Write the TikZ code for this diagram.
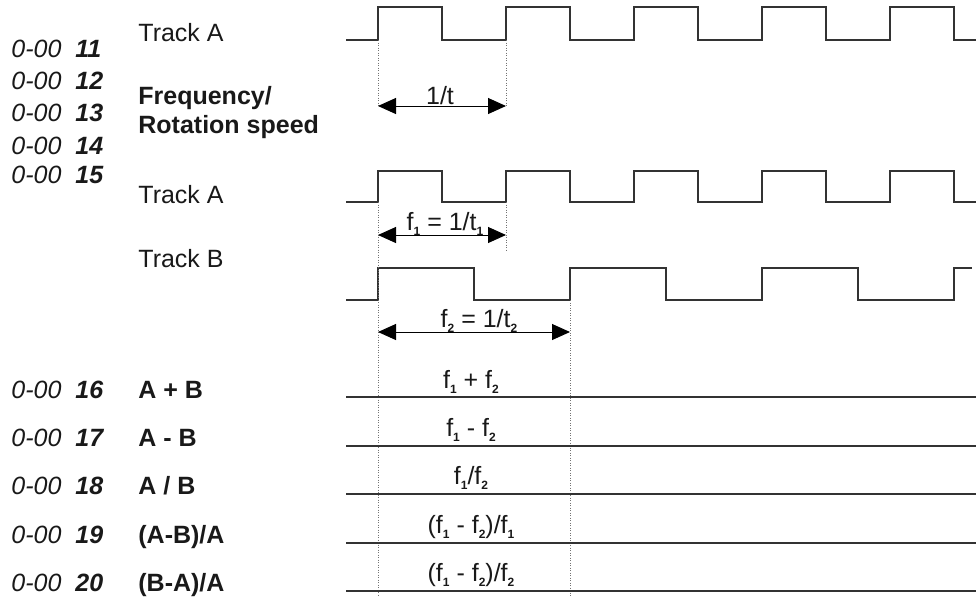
\documentclass[tikz,border=0pt]{standalone}
\usepackage{fontspec}
\setmainfont{Liberation Sans}
\usetikzlibrary{arrows.meta}

\newcommand{\fsub}[1]{\raisebox{-0.45ex}{\fontsize{6}{7}\selectfont\bfseries #1}}

\begin{document}
\begin{tikzpicture}[x=0.5pt, y=-0.5pt,
        every node/.style={inner sep=0pt, text=black!90, font=\fontsize{12.5}{14.5}\selectfont},
        code/.style={anchor=base west, font=\fontsize{12.5}{14.5}\selectfont\itshape},
        num/.style={anchor=base west, font=\fontsize{12.5}{14.5}\selectfont\bfseries\itshape},
        lbl/.style={anchor=base west},
        blbl/.style={anchor=base west, font=\fontsize{12.5}{14.5}\selectfont\bfseries},
        res/.style={anchor=base},
        wave/.style={draw=black!80, line width=0.65pt},
        guide/.style={draw=black!55, line width=0.45pt, dash pattern=on 0.45pt off 0.8pt},
        dim/.style={draw=black, line width=0.5pt,
            {Triangle[length=9pt,width=8pt]}-{Triangle[length=9pt,width=8pt]}}
        ]

        \useasboundingbox (0,0) rectangle (976,596);

        %% Item numbers
        \node[code] (c11) at (11,57)  {0-00}; \node[num] (n11) at (75,57)  {11};
        \node[code] (c12) at (11,89)  {0-00}; \node[num] (n12) at (75,89)  {12};
        \node[code] (c13) at (11,121) {0-00}; \node[num] (n13) at (75,121) {13};
        \node[code] (c14) at (11,154) {0-00}; \node[num] (n14) at (75,154) {14};
        \node[code] (c15) at (11,183) {0-00}; \node[num] (n15) at (75,183) {15};
        \node[code] (c16) at (11,398) {0-00}; \node[num] (n16) at (75,398) {16};
        \node[code] (c17) at (11,446) {0-00}; \node[num] (n17) at (75,446) {17};
        \node[code] (c18) at (11,494) {0-00}; \node[num] (n18) at (75,494) {18};
        \node[code] (c19) at (11,543) {0-00}; \node[num] (n19) at (75,543) {19};
        \node[code] (c20) at (11,591) {0-00}; \node[num] (n20) at (75,591) {20};

        %% Signal names
        \node[lbl] (trkA1) at (138,41) {Track A};
        \node[blbl, anchor=west, align=left] (freq) at (138,113) {Frequency/\\Rotation speed};
        \node[lbl] (trkA2) at (138,203) {Track A};
        \node[lbl] (trkB)  at (138,267) {Track B};
        \node[blbl] (sum)  at (138,398) {A + B};
        \node[blbl] (diff) at (138,446) {A - B};
        \node[blbl] (quot) at (138,494) {A / B};
        \node[blbl] (relA) at (138,543) {(A-B)/A};
        \node[blbl] (relB) at (138,591) {(B-A)/A};

        %% ---- Track A (single) ----
        \draw[wave] (346,40) -- (378,40) -- (378,7) -- (442,7) -- (442,40) -- (506,40) -- (506,7)
            -- (570,7) -- (570,40) -- (634,40) -- (634,7) -- (698,7) -- (698,40) -- (762,40)
            -- (762,7) -- (826,7) -- (826,40) -- (890,40) -- (890,7) -- (954,7) -- (954,40) -- (976,40);
        \draw[guide] (378,40) -- (378,106);
        \draw[guide] (506,40) -- (506,106);
        \coordinate (p0) at (378,106);
        \coordinate (p1) at (506,106);
        \draw[dim] (p0) -- (p1);
        \node[res] (per) at (440,104) {1/t};

        %% ---- Track A / Track B ----
        \draw[wave] (346,202) -- (378,202) -- (378,171) -- (442,171) -- (442,202) -- (506,202) -- (506,171)
            -- (570,171) -- (570,202) -- (634,202) -- (634,171) -- (698,171) -- (698,202) -- (762,202)
            -- (762,171) -- (826,171) -- (826,202) -- (890,202) -- (890,171) -- (954,171) -- (954,202) -- (976,202);
        \draw[wave] (346,300) -- (378,300) -- (378,268) -- (474,268) -- (474,300) -- (570,300) -- (570,268)
            -- (666,268) -- (666,300) -- (762,300) -- (762,268) -- (858,268) -- (858,300) -- (954,300)
            -- (954,268) -- (972,268);
        \draw[guide] (378,202) -- (378,596);
        \draw[guide] (506,202) -- (506,250);
        \draw[guide] (570,300) -- (570,596);
        \coordinate (a0) at (378,235);
        \coordinate (a1) at (506,235);
        \draw[dim] (a0) -- (a1);
        \node[res] (f1lbl) at (445,230) {f\fsub{1} = 1/t\fsub{1}};
        \coordinate (b0) at (378,332);
        \coordinate (b1) at (570,332);
        \draw[dim] (b0) -- (b1);
        \node[res] (f2lbl) at (479,327) {f\fsub{2} = 1/t\fsub{2}};

        %% ---- Results ----
        \draw[wave] (346,397) -- (976,397);
        \draw[wave] (346,446) -- (976,446);
        \draw[wave] (346,494) -- (976,494);
        \draw[wave] (346,543) -- (976,543);
        \draw[wave] (346,591) -- (976,591);
        \node[res] (rsum)  at (471,388) {f\fsub{1} + f\fsub{2}};
        \node[res] (rdiff) at (471,436) {f\fsub{1} - f\fsub{2}};
        \node[res] (rquot) at (471,484) {f\fsub{1}/f\fsub{2}};
        \node[res] (rrelA) at (471,533) {(f\fsub{1} - f\fsub{2})/f\fsub{1}};
        \node[res] (rrelB) at (471,581) {(f\fsub{1} - f\fsub{2})/f\fsub{2}};

    \end{tikzpicture}
\end{document}
